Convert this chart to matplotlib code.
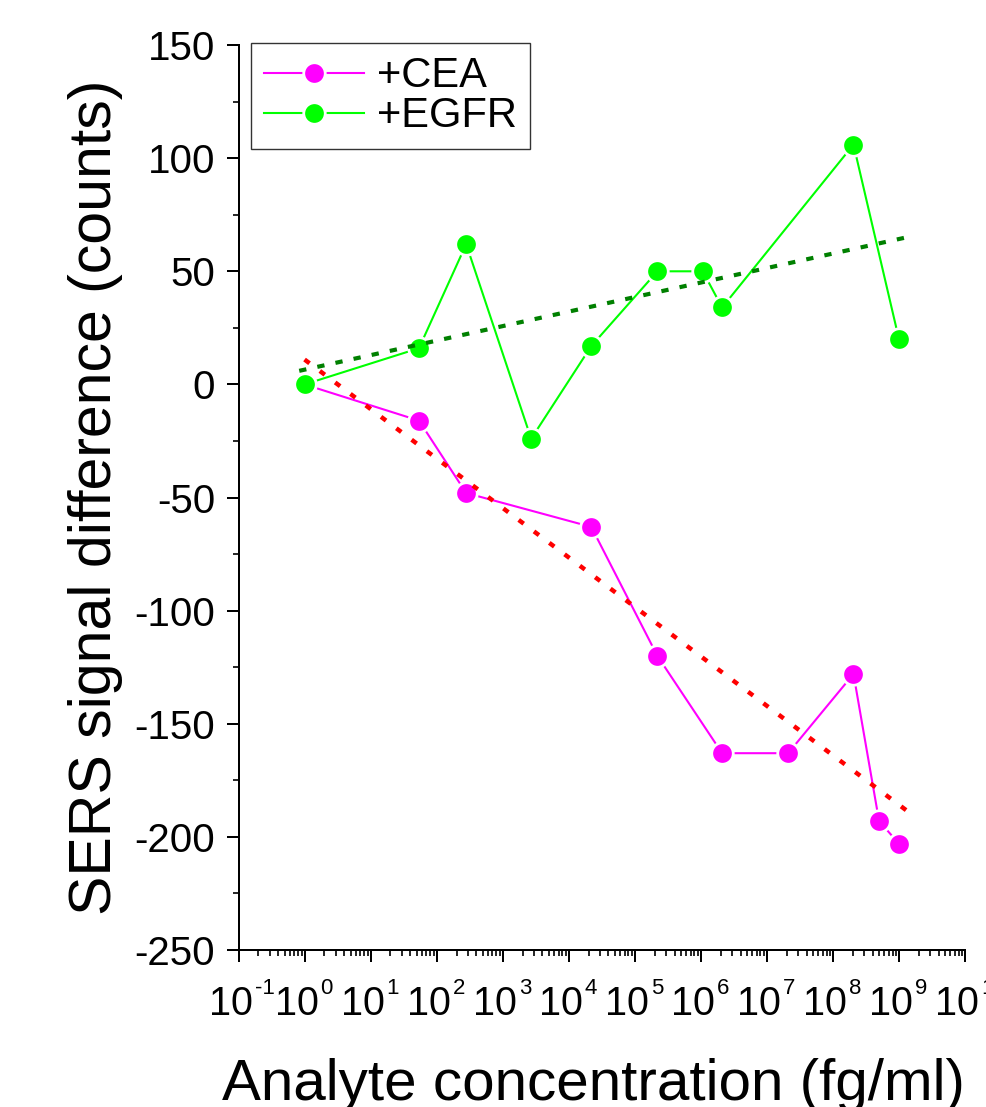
import numpy as np
import matplotlib
matplotlib.use('Agg')
import matplotlib.pyplot as plt
from matplotlib.ticker import FixedLocator, LogLocator, MultipleLocator, NullFormatter

plt.rcParams['font.family'] = ['Liberation Sans', 'DejaVu Sans']
plt.rcParams['axes.unicode_minus'] = False

# data
cea_conc = [1, 54, 280, 2.2e4, 2.2e5, 2.1e6, 2.1e7, 2.05e8, 5e8, 1e9]
cea_diff = [0, -16, -48, -63, -120, -163, -163, -128, -193, -203]
egfr_conc = [1, 54, 280, 2.7e3, 2.2e4, 2.2e5, 1.07e6, 2.1e6, 2.05e8, 1e9]
egfr_diff = [0, 16, 62, -24, 17, 50, 50, 34, 106, 20]

# linear trend lines (straight in log x), end points as drawn
cea_fit_x = [1.0, 1.4e9]
cea_fit_y = [11, -189]
egfr_fit_x = [0.83, 1.3e9]
egfr_fit_y = [6, 65]

decades = list(range(-1, 11))
narrow = ['Liberation Sans Narrow', 'Liberation Sans', 'DejaVu Sans']

fig = plt.figure(figsize=(9.86, 11.07), dpi=100)
ax = fig.add_axes([0.2419, 0.1418, 0.7368, 0.8175])

ax.plot(cea_conc, cea_diff, '-o', color='#FF00FF', lw=1.5, ms=15.5,
        mec='white', mew=2.0, label='+CEA', zorder=3)
ax.plot(egfr_conc, egfr_diff, '-o', color='#00FF00', lw=1.5, ms=15.5,
        mec='white', mew=2.0, label='+EGFR', zorder=4)
ax.plot(egfr_fit_x, egfr_fit_y, color='#008000', lw=3.0,
        linestyle=(0, (1.75, 2.7)), zorder=5)
ax.plot(cea_fit_x, cea_fit_y, color='#FF0000', lw=3.2,
        linestyle=(0, (1.4, 2.9)), zorder=5)

ax.set_xscale('log')
ax.set_xlim(0.1, 1e10)
ax.set_ylim(-250, 150)

ax.xaxis.set_major_locator(FixedLocator([10.0 ** k for k in decades]))
ax.xaxis.set_minor_locator(LogLocator(base=10, subs=np.arange(2, 10), numticks=100))
ax.xaxis.set_major_formatter(NullFormatter())
ax.xaxis.set_minor_formatter(NullFormatter())
ax.yaxis.set_major_locator(MultipleLocator(50))
ax.yaxis.set_minor_locator(MultipleLocator(25))

ax.spines[['top', 'right']].set_visible(False)
for s in ['left', 'bottom']:
    ax.spines[s].set_linewidth(1.44)

ax.tick_params(which='major', length=8.8, width=1.44, direction='out')
ax.tick_params(which='minor', length=4.4, width=1.2, direction='out')
ax.tick_params(axis='y', labelsize=29, pad=8)

# x tick labels: "10" with a small exponent
for k in decades:
    ax.annotate('10', xy=(10.0 ** k, 0), xycoords=('data', 'axes fraction'),
                xytext=(14, -65), textcoords='offset pixels', ha='right',
                va='baseline', fontsize=28.5, family=narrow, annotation_clip=False)
    ax.annotate(str(k), xy=(10.0 ** k, 0), xycoords=('data', 'axes fraction'),
                xytext=(16, -44), textcoords='offset pixels', ha='left',
                va='baseline', fontsize=16, family=narrow, annotation_clip=False)

ax.set_ylabel('SERS signal difference (counts)', fontsize=42.5)
ax.yaxis.label.set_va('baseline')
ax.yaxis.set_label_coords(-0.1755, 0.5)

ax.set_xlabel('Analyte concentration (fg/ml)', fontsize=42)
ax.xaxis.label.set_va('baseline')
ax.xaxis.set_label_coords(0.489, -0.1657)

leg = ax.legend(loc='upper left', bbox_to_anchor=(0.0172, 1.0025), borderaxespad=0,
                fontsize=30, handlelength=2.4, handletextpad=0.3, labelspacing=0.0,
                borderpad=0.32, fancybox=False, framealpha=1, edgecolor='#333333',
                numpoints=1)
leg.get_frame().set_linewidth(1.0)

fig.savefig('out.png', dpi=100)
